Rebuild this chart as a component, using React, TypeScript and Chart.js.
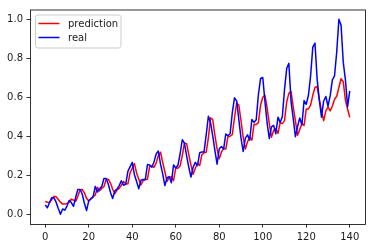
import React, { useEffect, useRef } from "react";
import { Chart, registerables } from "chart.js";

Chart.register(...registerables);

const seriesNames = ["prediction", "real"];

const realValues = [
  0.048, 0.033, 0.06, 0.085, 0.085, 0.062, 0.029, 0.0, 0.027, 0.021,
  0.042, 0.071, 0.06, 0.041, 0.087, 0.127, 0.127, 0.104, 0.056, 0.019,
  0.069, 0.079, 0.089, 0.143, 0.114, 0.131, 0.143, 0.183, 0.183, 0.154,
  0.112, 0.081, 0.12, 0.129, 0.147, 0.172, 0.149, 0.153, 0.22, 0.243,
  0.266, 0.203, 0.168, 0.131, 0.174, 0.178, 0.178, 0.255, 0.253, 0.241,
  0.268, 0.309, 0.324, 0.257, 0.207, 0.147, 0.187, 0.193, 0.162, 0.253,
  0.237, 0.251, 0.309, 0.382, 0.365, 0.299, 0.241, 0.191, 0.241, 0.266,
  0.249, 0.315, 0.319, 0.32, 0.407, 0.502, 0.469, 0.402, 0.328, 0.257,
  0.336, 0.347, 0.334, 0.411, 0.403, 0.413, 0.521, 0.597, 0.581, 0.485,
  0.39, 0.322, 0.39, 0.407, 0.38, 0.486, 0.471, 0.485, 0.614, 0.697,
  0.701, 0.579, 0.469, 0.388, 0.448, 0.456, 0.413, 0.498, 0.471, 0.5,
  0.639, 0.747, 0.774, 0.579, 0.492, 0.398, 0.45, 0.494, 0.459, 0.583,
  0.564, 0.61, 0.71, 0.857, 0.878, 0.693, 0.585, 0.498, 0.581, 0.604,
  0.554, 0.608, 0.689, 0.71, 0.832, 1.0, 0.969, 0.78, 0.689, 0.552,
  0.633,
];

const predictionValues = [
  0.065, 0.062, 0.06, 0.075, 0.092, 0.09, 0.076, 0.062, 0.052, 0.052,
  0.055, 0.062, 0.078, 0.072, 0.066, 0.092, 0.124, 0.127, 0.11, 0.082,
  0.068, 0.08, 0.09, 0.098, 0.138, 0.12, 0.132, 0.142, 0.178, 0.18,
  0.16, 0.128, 0.105, 0.125, 0.133, 0.148, 0.168, 0.155, 0.156, 0.212,
  0.236, 0.26, 0.212, 0.18, 0.15, 0.172, 0.178, 0.18, 0.246, 0.248,
  0.24, 0.262, 0.3, 0.318, 0.266, 0.218, 0.168, 0.188, 0.192, 0.172,
  0.238, 0.236, 0.248, 0.3, 0.366, 0.362, 0.306, 0.252, 0.205, 0.236,
  0.26, 0.25, 0.305, 0.315, 0.318, 0.392, 0.495, 0.485, 0.405, 0.335,
  0.285, 0.318, 0.338, 0.334, 0.398, 0.4, 0.408, 0.495, 0.57, 0.56,
  0.48, 0.395, 0.335, 0.372, 0.395, 0.38, 0.462, 0.46, 0.47, 0.56,
  0.6, 0.61, 0.545, 0.465, 0.395, 0.43, 0.44, 0.415, 0.47, 0.465,
  0.48, 0.575, 0.62, 0.63, 0.55, 0.48, 0.405, 0.435, 0.465, 0.455,
  0.54, 0.54, 0.56, 0.61, 0.65, 0.655, 0.59, 0.53, 0.48, 0.53,
  0.55, 0.53, 0.555, 0.59, 0.605, 0.65, 0.695, 0.68, 0.585, 0.54,
  0.497,
];

const xTickValues = [0, 20, 40, 60, 80, 100, 120, 140];
const yTickValues = [0.0, 0.2, 0.4, 0.6, 0.8, 1.0];

const FONT_FAMILY = "'DejaVu Sans', sans-serif";
const TEXT_COLOR = "#1a1a1a";

const mplFramePlugin = {
  id: "mplFrame",
  afterDraw(chart: any) {
    const { ctx, chartArea: a } = chart;
    ctx.save();
    // spines
    ctx.strokeStyle = "#000000";
    ctx.lineWidth = 0.8;
    ctx.strokeRect(a.left + 0.5, a.top + 0.5, a.right - a.left, a.bottom - a.top);

    // legend
    const lx = a.left + 5.5;
    const ly = a.top + 5.5;
    const lw = 85.5;
    const lh = 33;
    const r = 2.5;
    ctx.beginPath();
    ctx.moveTo(lx + r, ly);
    ctx.lineTo(lx + lw - r, ly);
    ctx.arcTo(lx + lw, ly, lx + lw, ly + r, r);
    ctx.lineTo(lx + lw, ly + lh - r);
    ctx.arcTo(lx + lw, ly + lh, lx + lw - r, ly + lh, r);
    ctx.lineTo(lx + r, ly + lh);
    ctx.arcTo(lx, ly + lh, lx, ly + lh - r, r);
    ctx.lineTo(lx, ly + r);
    ctx.arcTo(lx, ly, lx + r, ly, r);
    ctx.closePath();
    ctx.fillStyle = "rgba(255,255,255,0.8)";
    ctx.fill();
    ctx.strokeStyle = "#cccccc";
    ctx.lineWidth = 1;
    ctx.stroke();

    ctx.font = `10px ${FONT_FAMILY}`;
    ctx.textBaseline = "middle";
    ctx.textAlign = "left";
    chart.data.datasets.forEach((ds: any, i: number) => {
      const yy = ly + 8.5 + i * 14;
      ctx.strokeStyle = ds.borderColor;
      ctx.lineWidth = 1.5;
      ctx.beginPath();
      ctx.moveTo(lx + 3, yy);
      ctx.lineTo(lx + 24, yy);
      ctx.stroke();
      ctx.fillStyle = TEXT_COLOR;
      ctx.fillText(ds.label, lx + 32.5, yy + 0.5);
    });
    ctx.restore();
  },
};

export default function App() {
  const canvasRef = useRef<HTMLCanvasElement | null>(null);

  useEffect(() => {
    if (!canvasRef.current) return;
    const chart = new Chart(canvasRef.current, {
      type: "line",
      data: {
        datasets: [
          {
            label: seriesNames[0],
            data: predictionValues.map((v, i) => ({ x: i, y: v })),
            borderColor: "#ff0000",
            borderWidth: 1.5,
            pointRadius: 0,
            tension: 0,
            fill: false,
            order: 1,
            borderJoinStyle: "round",
          },
          {
            label: seriesNames[1],
            data: realValues.map((v, i) => ({ x: i, y: v })),
            borderColor: "#0000ff",
            borderWidth: 1.5,
            pointRadius: 0,
            tension: 0,
            fill: false,
            order: 0,
            borderJoinStyle: "round",
          },
        ],
      },
      options: {
        responsive: false,
        animation: false,
        events: [],
        layout: { padding: { left: 0, top: 6, right: 7, bottom: 0 } },
        plugins: {
          legend: { display: false },
          tooltip: { enabled: false },
          title: { display: false },
        },
        scales: {
          x: {
            type: "linear",
            min: -7,
            max: 147,
            afterBuildTicks: (axis: any) => {
              axis.ticks = xTickValues.map((v) => ({ value: v }));
            },
            afterFit: (scale: any) => {
              scale.height = 24;
            },
            border: { display: false },
            grid: {
              display: true,
              drawOnChartArea: false,
              drawTicks: true,
              tickLength: 3.5,
              tickColor: "#000000",
              tickWidth: 0.8,
            },
            ticks: {
              padding: 3.5,
              color: TEXT_COLOR,
              font: { family: FONT_FAMILY, size: 10 },
              maxRotation: 0,
              autoSkip: false,
              callback: (v: any) => String(v),
            },
          },
          y: {
            type: "linear",
            min: -0.05,
            max: 1.05,
            afterBuildTicks: (axis: any) => {
              axis.ticks = yTickValues.map((v) => ({ value: v }));
            },
            afterFit: (scale: any) => {
              scale.width = 30;
            },
            border: { display: false },
            grid: {
              display: true,
              drawOnChartArea: false,
              drawTicks: true,
              tickLength: 3.5,
              tickColor: "#000000",
              tickWidth: 0.8,
            },
            ticks: {
              padding: 3.5,
              color: TEXT_COLOR,
              font: { family: FONT_FAMILY, size: 10 },
              autoSkip: false,
              callback: (v: any) => Number(v).toFixed(1),
            },
          },
        },
      },
      plugins: [mplFramePlugin],
    });
    return () => chart.destroy();
  }, []);

  return (
    <div style={{ position: "fixed", left: 0, top: 0, width: 372, height: 248, background: "#ffffff" }}>
      <canvas ref={canvasRef} width={372} height={248} style={{ display: "block", width: 372, height: 248 }} />
    </div>
  );
}
